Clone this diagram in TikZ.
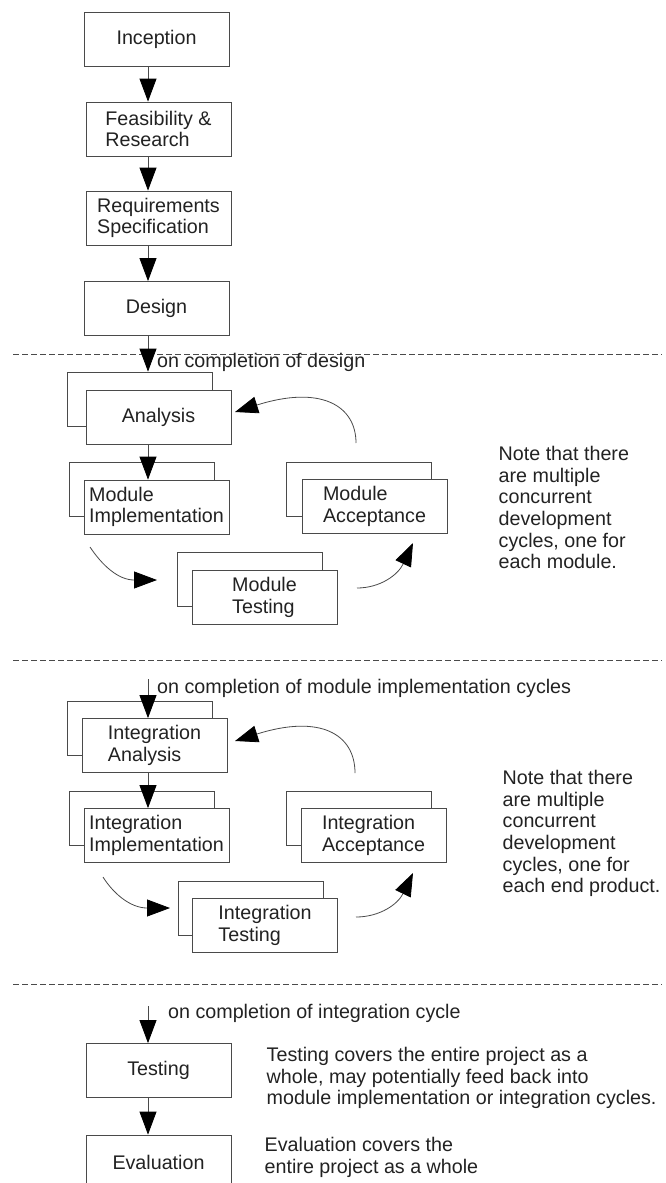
\documentclass[tikz,border=0pt]{standalone}
\usepackage{fontspec}
\setmainfont{Liberation Sans}
\usetikzlibrary{arrows.meta}
\definecolor{ink}{HTML}{222222}
\definecolor{edge}{HTML}{4A4A4A}
\begin{document}
\begin{tikzpicture}[x=1pt,y=-1pt,
  every node/.style={font=\fontsize{19.7}{21.7}\selectfont, text=ink},
  stage/.style={draw=edge, line width=0.8pt, fill=white, minimum width=145pt,
    minimum height=54pt, inner sep=2pt, align=left},
  flow/.style={draw=edge, line width=0.8pt,
    -{Triangle[length=23pt,width=17pt,color=black]}},
  cycle/.style={flow},
  caption/.style={anchor=base west, inner sep=0pt},
  note/.style={anchor=north west, inner sep=0pt, align=left},
  divider/.style={draw=edge, line width=0.8pt, dash pattern=on 6pt off 3pt}
]
\useasboundingbox (0,0) rectangle (666,1183);
\clip (0,0) rectangle (666,1183);

% x position of the vertical flow line
\coordinate (ax) at (148,0);

% ---- planning phase ----
\node[stage] (inception) at (156.5,39) {Inception};
\node[stage] (feas) at (158.5,129) {Feasibility \&\\Research};
\node[stage] (req) at (158.5,218) {Requirements\\Specification};
\node[stage] (design) at (156.5,308.5) {Design};

\draw[flow] (inception.south -| ax) -- (feas.north -| ax);
\draw[flow] (feas.south -| ax) -- (req.north -| ax);
\draw[flow] (req.south -| ax) -- (design.north -| ax);

\draw[divider] (13,354) -- (662,354);

% ---- module cycle ----
\node[stage] (anaB) at (139.5,399) {};
\node[stage] (ana) at (158.5,417) {Analysis};
\node[stage] (mimpB) at (141.5,489.5) {};
\node[stage] (mimp) at (156.5,507) {Module\\Implementation};
\node[stage] (maccB) at (358.5,489.5) {};
\node[stage] (macc) at (374.5,506.5) {Module\\Acceptance};
\node[stage] (mtestB) at (249.5,579.5) {};
\node[stage] (mtest) at (264.5,597.5) {Module\\Testing};

\draw[flow] (design.south -| ax) -- (anaB.north -| ax);
\node[caption] (cap1) at (157,367) {on completion of design};
\draw[flow] (ana.south -| ax) -- (mimp.north -| ax);

\coordinate (m1s) at (90,547);   \coordinate (m1e) at (157,580);
\coordinate (m2s) at (357,588);  \coordinate (m2e) at (413,543);
\coordinate (m3s) at (356,443);  \coordinate (m3e) at (235,412);
\draw[cycle] (m1s) .. controls (102,565) and (118,580) .. (m1e);
\draw[cycle] (m2s) .. controls (380,588) and (398,575) .. (m2e);
\draw[cycle] (m3s) .. controls (356,405) and (320,385) .. (m3e);

\node[note] (note1) at (498.5,446) {Note that there\\are multiple\\concurrent\\development\\cycles, one for\\each module.};

\draw[divider] (13,660) -- (662,660);

% ---- integration cycle ----
\node[stage] (ianaB) at (139.5,728) {};
\node[stage] (iana) at (154.5,745.5) {Integration\\Analysis};
\node[stage] (iimpB) at (141.5,818) {};
\node[stage] (iimp) at (156.5,835.5) {Integration\\Implementation};
\node[stage] (iaccB) at (358.5,818) {};
\node[stage] (iacc) at (373.5,835.5) {Integration\\Acceptance};
\node[stage] (itestB) at (250.5,908) {};
\node[stage] (itest) at (265,925.5) {Integration\\Testing};

\coordinate (s2) at (148,679);
\draw[flow] (s2) -- (iana.north -| s2);
\node[caption] (cap2) at (157,693) {on completion of module implementation cycles};
\draw[flow] (iana.south -| ax) -- (iimp.north -| ax);

\coordinate (i1s) at (103,877);  \coordinate (i1e) at (170,908);
\coordinate (i2s) at (356,917);  \coordinate (i2e) at (413,873);
\coordinate (i3s) at (355,773);  \coordinate (i3e) at (235,741);
\draw[cycle] (i1s) .. controls (113,893) and (130,908) .. (i1e);
\draw[cycle] (i2s) .. controls (380,917) and (398,904) .. (i2e);
\draw[cycle] (i3s) .. controls (355,734) and (320,714) .. (i3e);

\node[note] (note2) at (502.5,770) {Note that there\\are multiple\\concurrent\\development\\cycles, one for\\each end product.};

\draw[divider] (13,984) -- (662,984);

% ---- final phase ----
\node[stage] (testing) at (158.5,1070.5) {Testing};
\node[stage] (eval) at (158.5,1162) {Evaluation};

\coordinate (s3) at (148,1006);
\draw[flow] (s3) -- (testing.north -| s3);
\node[caption] (cap3) at (168,1018) {on completion of integration cycle};
\draw[flow] (testing.south -| ax) -- (eval.north -| ax);

\node[note] (note3) at (266.5,1047) {Testing covers the entire project as a\\whole, may potentially feed back into\\module implementation or integration cycles.};
\node[note] (note4) at (264.5,1137) {Evaluation covers the\\entire project as a whole};
\end{tikzpicture}
\end{document}
